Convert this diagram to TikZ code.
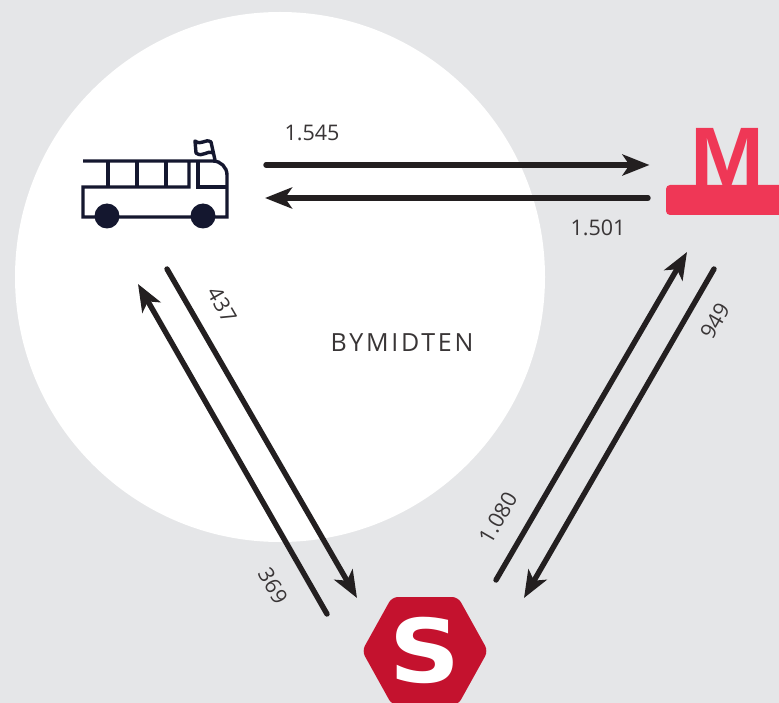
\documentclass[tikz,border=0pt]{standalone}
\usepackage{fontspec}
\setmainfont{Open Sans}
\newfontfamily\wordfont[LetterSpace=11]{Open Sans}
\newfontfamily\metrofont{Liberation Sans}
\newfontfamily\trainfont{DejaVu Sans}
\usetikzlibrary{arrows.meta,positioning,calc}
\definecolor{pagegray}{HTML}{E5E6E8}
\definecolor{flowblack}{HTML}{231F20}
\definecolor{busnavy}{HTML}{14172F}
\definecolor{metrored}{HTML}{EF3756}
\definecolor{trainred}{HTML}{C4122E}
\tikzset{%
  flow/.style={draw=flowblack,line width=5.4pt,line cap=round,-{Stealth[length=27pt,width=21pt,inset=7pt]}},
  count/.style={text=flowblack!90,font=\fontsize{21.5}{26}\selectfont,inner sep=0pt},
  busline/.style={draw=busnavy,line width=3.4pt},
}
\begin{document}
\begin{tikzpicture}[x=1pt,y=-1pt]
    \useasboundingbox (0,0) rectangle (779,703);
    \fill[pagegray] (0,0) rectangle (779,703);
    \fill[white] (280,277) circle (265);
    \node[count,font=\wordfont\fontsize{25}{28}\selectfont] (centre) at (402,343) {BYMIDTEN};
    % bus
    \draw[busline] (83,161) -- (213,161) to[out=0,in=90] (227,175) -- (227,217) -- (83,217) -- (83,187) -- (189,187) -- (189,161);
    \draw[busline] (108,161) -- (108,187) (137,161) -- (137,187) (166,161) -- (166,187);
    \draw[busline] (198,161) -- (198,187) -- (227,187);
    \draw[busline,line join=round] (215,160) -- (211,142) .. controls (205,138) and (202,146) .. (195,141) -- (196,153) .. controls (203,158) and (206,150) .. (213,153);
    \fill[busnavy] (107,216) circle (12.5) (203,216) circle (12.5);
    % metro
    \fill[metrored,rounded corners=4pt] (666,185) rectangle (800,215);
    \node[inner sep=0pt,text=metrored,font=\metrofont\bfseries\fontsize{83}{83}\selectfont,xscale=1.07,anchor=base] (metro) at (727.5,185.5) {M};
    % train
    \fill[trainred,rounded corners=6pt] (362,651) -- (392,597) -- (458,597) -- (488,651) -- (458,705) -- (392,705) -- cycle;
    \node[inner sep=0pt,text=white,font=\trainfont\bfseries\fontsize{88}{88}\selectfont,xscale=1.12] (train) at (425,650) {S};
    % flows
    \coordinate (busE) at (266,165);
    \coordinate (metroW) at (649.5,165);
    \coordinate (metroS) at (648,198);
    \coordinate (busF) at (265,198);
    \coordinate (busA) at (167,269);
    \coordinate (trainA) at (357,598);
    \coordinate (trainB) at (327,614);
    \coordinate (busB) at (138,284);
    \coordinate (trainC) at (496,580);
    \coordinate (metroC) at (687,252);
    \coordinate (metroD) at (714,269);
    \coordinate (trainD) at (524,598);
    \draw[flow] (busE) -- (metroW);
    \draw[flow] (metroS) -- (busF);
    \draw[flow] (busA) -- (trainA);
    \draw[flow] (trainB) -- (busB);
    \draw[flow] (trainC) -- (metroC);
    \draw[flow] (metroD) -- (trainD);
    \node[count] (n1545) at (312,133) {1.545};
    \node[count] (n1501) at (598,228) {1.501};
    \node[count,rotate=-60] (n437) at (222,305) {437};
    \node[count,rotate=-60] (n369) at (273,586) {369};
    \node[count,rotate=60] (n949) at (715,321) {949};
    \node[count,rotate=60] (n1080) at (498,518) {1.080};
\end{tikzpicture}
\end{document}
